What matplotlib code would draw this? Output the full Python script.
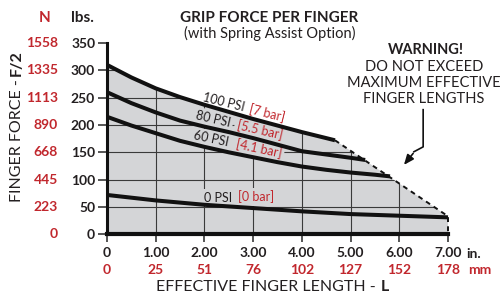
import matplotlib
matplotlib.use("Agg")
import matplotlib.pyplot as plt
from matplotlib.patches import Polygon

plt.rcParams['font.family'] = ['Lato', 'DejaVu Sans']

# readings from the chart (x in inches, y in lbs)
x100 = [0, 0.5, 1, 1.5, 2, 2.5, 3, 3.5, 4, 4.5, 4.68]
y100 = [310, 287, 267, 251, 237, 224, 211, 199, 187, 176, 172]
x80 = [0, 0.5, 1, 1.5, 2, 2.5, 3, 3.5, 4, 4.5, 5, 5.3]
y80 = [260, 240, 223, 208, 197, 187, 176, 164, 152, 146, 140, 136]
x60 = [0, 0.5, 1, 1.5, 2, 2.5, 3, 3.5, 4, 4.5, 5, 5.5, 5.81]
y60 = [215, 199, 185, 171, 160, 150, 141, 132, 124, 118, 113, 109, 106]
x0 = [0, 1, 2, 3, 4, 5, 6, 7]
y0 = [72, 62, 54, 48, 42, 37, 34, 31]
limit_x = [4.68, 7, 7]
limit_y = [172, 33, 0]

lbs_ticks = [0, 50, 100, 150, 200, 250, 300, 350]
n_labels = ['0', '223', '445', '668', '890', '1113', '1335', '1558']
in_ticks = [0, 1, 2, 3, 4, 5, 6, 7]
in_labels = ['0', '1.00', '2.00', '3.00', '4.00', '5.00', '6.00', '7.00']
mm_labels = ['0', '25', '51', '76', '102', '127', '152', '178']

red = '#c1272d'
ink = '#231f20'
gray = '#d4d5d7'

fig = plt.figure(figsize=(5.04, 2.96), dpi=100)
ax = fig.add_axes([107/504, (296-234.3)/296, 341/504, 191.3/296])
ax.set_xlim(0, 7)
ax.set_ylim(0, 350)

# shaded region under 100 psi curve and the limit line
verts = list(zip(x100, y100)) + list(zip(limit_x[1:], limit_y[1:])) + [(0, 0)]
poly = Polygon(verts, closed=True, fc=gray, ec='none', zorder=1)
ax.add_patch(poly)

for v in lbs_ticks[1:-1]:
    l = ax.axhline(v, color='#3a3a3a', lw=0.8, zorder=1.5)
    l.set_clip_path(poly)
for v in in_ticks[1:-1]:
    l = ax.axvline(v, color='#3a3a3a', lw=0.8, zorder=1.5)
    l.set_clip_path(poly)

for xs, ys in [(x100, y100), (x80, y80), (x60, y60), (x0, y0)]:
    ax.plot(xs, ys, color='#111111', lw=2.9, solid_capstyle='butt', zorder=3, clip_on=False)
ax.plot(limit_x, limit_y, color='#111111', lw=1.4, ls=(0, (2.5, 2.2)), zorder=3, clip_on=False)

# curve labels (100 psi sits on white, the rest inside the shaded area)
top = dict(fontsize=9, rotation_mode='anchor', ha='left', va='baseline', zorder=2.5)
lab = dict(top, bbox=dict(boxstyle='square,pad=0.2', fc=gray, ec='none'))
ax.text(1.955, 243, '100 PSI', color=ink, rotation=-14, **top)
ax.text(2.90, 222, '[7 bar]', color=red, rotation=-14, **top)
ax.text(1.81, 211, '80 PSI', color=ink, rotation=-13, **lab)
ax.text(2.65, 192, '[5.5 bar]', color=red, rotation=-13, **lab)
ax.text(1.77, 174, '60 PSI', color=ink, rotation=-12, **lab)
ax.text(2.63, 157, '[4.1 bar]', color=red, rotation=-12, **lab)
lab0 = dict(fontsize=9, ha='left', va='baseline', zorder=2.5,
            bbox=dict(boxstyle='square,pad=0.2', fc=gray, ec='none'))
ax.text(2.0, 60, '0 PSI', color=ink, **lab0)
ax.text(2.68, 60, '[0 bar]', color=red, **lab0)

# axes styling
for s in ['top', 'right']:
    ax.spines[s].set_visible(False)
ax.spines['left'].set_linewidth(2.2)
ax.spines['bottom'].set_linewidth(3)
ax.spines['left'].set_color('#111111')
ax.spines['bottom'].set_color('#111111')
ax.set_yticks(lbs_ticks)
ax.set_yticklabels([str(v) for v in lbs_ticks])
ax.set_xticks(in_ticks)
ax.set_xticklabels(in_labels)
ax.tick_params(axis='y', length=6.5, width=1.4, color='#555555', pad=2, labelsize=10, labelcolor=ink)
ax.tick_params(axis='x', length=5.5, width=1.4, color='#555555', pad=4, labelsize=10, labelcolor=ink)
for t in ax.get_xticklabels() + ax.get_yticklabels():
    t.set_fontweight('bold')

for v, s in zip(lbs_ticks, n_labels):
    ax.annotate(s, xy=(0, v), xycoords=('axes fraction', 'data'), xytext=(-35.3, 0),
                textcoords='offset points', ha='right', va='center', color=red,
                fontsize=10, fontweight='bold', annotation_clip=False)
for v, s in zip(in_ticks, mm_labels):
    ax.annotate(s, xy=(v, 0), xycoords=('data', 'axes fraction'), xytext=(0, -25.5),
                textcoords='offset points', ha='center', va='center', color=red,
                fontsize=10, fontweight='bold', annotation_clip=False)
ax.annotate('in.', xy=(7, 0), xycoords=('data', 'axes fraction'), xytext=(13.5, -14.4),
            textcoords='offset points', ha='left', va='center', color=ink,
            fontsize=10, fontweight='bold', annotation_clip=False)
ax.annotate('mm', xy=(7, 0), xycoords=('data', 'axes fraction'), xytext=(14.2, -25.5),
            textcoords='offset points', ha='left', va='center', color=red,
            fontsize=10, fontweight='bold', annotation_clip=False)

# headers and titles
fig.text(45/504, 1-17.5/296, 'N', color=red, fontsize=11, fontweight='bold', ha='center', va='center')
fig.text(82.5/504, 1-17.5/296, 'lbs.', color=ink, fontsize=11, fontweight='bold', ha='center', va='center')
fig.text(269/504, 1-17.5/296, 'GRIP FORCE PER FINGER', color=ink, fontsize=11, fontweight='bold',
         ha='center', va='center')
fig.text(270/504, 1-33/296, '(with Spring Assist Option)', color=ink, fontsize=10.5,
         ha='center', va='center')

fig.text(17/504, 1-79/296, 'FINGER FORCE -', color=ink, fontsize=11.5, rotation=90,
         ha='center', va='top')
fig.text(17/504, 1-76/296, 'F/2', color=ink, fontsize=11.5, fontweight='bold', rotation=90,
         ha='center', va='bottom')
fig.text(376/504, 1-287/296, 'EFFECTIVE FINGER LENGTH -', color=ink, fontsize=11.5,
         ha='right', va='center')
fig.text(381/504, 1-287/296, 'L', color=ink, fontsize=11.5, fontweight='bold',
         ha='left', va='center')

# warning note
fig.text(426/504, 1-50/296, 'WARNING!', color=ink, fontsize=10.5, fontweight='bold', ha='center', va='center')
for i, line in enumerate(['DO NOT EXCEED', 'MAXIMUM EFFECTIVE', 'FINGER LENGTHS']):
    fig.text(424/504, 1-(67+16*i)/296, line, color=ink, fontsize=10.5, ha='center', va='center')

ax.plot([6.49, 6.49, 6.3], [228, 160, 151], color='#111111', lw=1.2, clip_on=False, zorder=4)
ax.annotate('', xy=(6.06, 123), xytext=(6.32, 152),
            arrowprops=dict(arrowstyle='-|>,head_length=0.6,head_width=0.25', color='#111111', lw=1.2),
            annotation_clip=False)

fig.savefig('out.png', dpi=100)
